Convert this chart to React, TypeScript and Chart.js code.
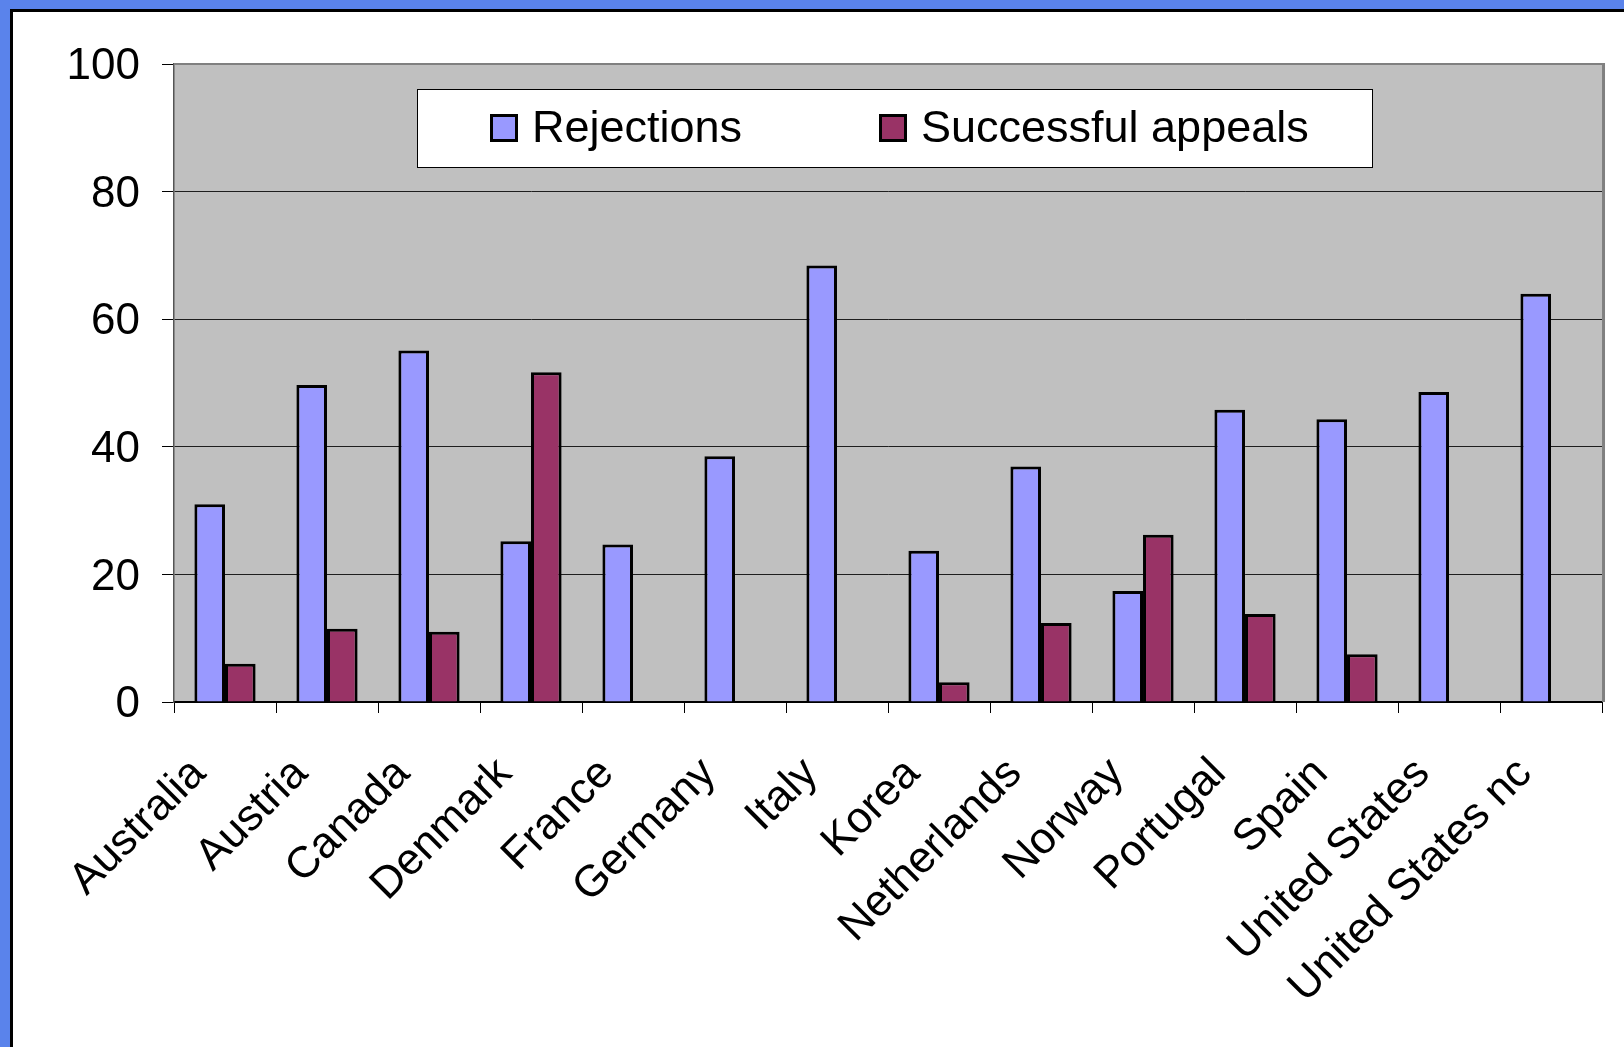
import React, { useEffect, useRef } from 'react';
import { Chart, registerables } from 'chart.js';

Chart.register(...registerables);

// Share of applications rejected and share of appeals that succeeded, by country (%)
const countries = [
  'Australia',
  'Austria',
  'Canada',
  'Denmark',
  'France',
  'Germany',
  'Italy',
  'Korea',
  'Netherlands',
  'Norway',
  'Portugal',
  'Spain',
  'United States',
  'United States nc',
];
const rejections = [31.0, 49.7, 55.1, 25.2, 24.7, 38.5, 68.4, 23.7, 36.9, 17.4, 45.8, 44.3, 48.6, 64.0];
const successfulAppeals = [6.0, 11.5, 11.0, 51.7, null, null, null, 3.1, 12.4, 26.2, 13.8, 7.5, null, null];
const yTickValues = [0, 20, 40, 60, 80, 100];

const seriesLabels = ['Rejections', 'Successful appeals'];
const seriesColors = ['#9999ff', '#993366'];

const FONT = '"Liberation Sans", Arial, sans-serif';

// Grey plotting area behind the grid
const plotBackground = {
  id: 'plotBackground',
  beforeDraw(chart: any) {
    const { ctx, chartArea: a } = chart;
    ctx.save();
    ctx.fillStyle = '#c0c0c0';
    ctx.fillRect(a.left, a.top, a.right - a.left, a.bottom - a.top);
    ctx.restore();
  },
  afterDatasetsDraw(chart: any) {
    const { ctx, chartArea: a } = chart;
    ctx.save();
    ctx.strokeStyle = '#808080';
    ctx.lineWidth = 2;
    ctx.beginPath();
    ctx.moveTo(a.left, a.top);
    ctx.lineTo(a.right, a.top);
    ctx.stroke();
    ctx.lineWidth = 3;
    ctx.beginPath();
    ctx.moveTo(a.right + 1.5, a.top - 1);
    ctx.lineTo(a.right + 1.5, a.bottom);
    ctx.stroke();
    ctx.restore();
  },
};

// Boxed legend placed inside the plotting area
const boxedLegend = {
  id: 'boxedLegend',
  afterDraw(chart: any, _args: any, opts: any) {
    const { ctx, chartArea: a } = chart;
    const x = a.left + opts.offsetX;
    const y = a.top + opts.offsetY;
    ctx.save();
    ctx.fillStyle = '#ffffff';
    ctx.fillRect(x, y, opts.width, opts.height);
    ctx.strokeStyle = '#000000';
    ctx.lineWidth = 1;
    ctx.strokeRect(x + 0.5, y + 0.5, opts.width, opts.height);
    ctx.font = `${opts.fontSize}px ${FONT}`;
    ctx.textBaseline = 'middle';
    ctx.textAlign = 'left';
    const midY = y + opts.height / 2;
    chart.data.datasets.forEach((ds: any, i: number) => {
      const sx = x + opts.itemX[i];
      const s = opts.swatch;
      ctx.fillStyle = ds.backgroundColor;
      ctx.fillRect(sx, midY - s / 2, s, s);
      ctx.strokeStyle = '#000';
      ctx.lineWidth = 3;
      ctx.strokeRect(sx + 1.5, midY - s / 2 + 1.5, s - 3, s - 3);
      ctx.fillStyle = '#000';
      ctx.fillText(ds.label, sx + s + 14, midY + 2);
    });
    ctx.restore();
  },
};

export default function App() {
  const canvasRef = useRef<HTMLCanvasElement | null>(null);

  useEffect(() => {
    if (!canvasRef.current) return;
    const chart = new Chart(canvasRef.current, {
      type: 'bar',
      data: {
        labels: countries,
        datasets: [
          {
            label: seriesLabels[0],
            data: rejections,
            backgroundColor: seriesColors[0],
            borderColor: '#000',
            borderWidth: 3,
          },
          {
            label: seriesLabels[1],
            data: successfulAppeals,
            backgroundColor: seriesColors[1],
            borderColor: '#000',
            borderWidth: 3,
          },
        ],
      },
      plugins: [plotBackground, boxedLegend],
      options: {
        responsive: false,
        animation: false,
        layout: { padding: { left: 0, top: 64, right: 18, bottom: 0 } },
        datasets: {
          bar: { categoryPercentage: 0.6, barPercentage: 1.0, borderSkipped: 'bottom' },
        },
        plugins: {
          legend: { display: false },
          tooltip: { enabled: false },
          boxedLegend: {
            offsetX: 243,
            offsetY: 25,
            width: 955,
            height: 78,
            swatch: 28,
            itemX: [73, 462],
            fontSize: 45,
          },
        } as any,
        scales: {
          x: {
            offset: true,
            afterFit: (scale: any) => {
              scale.height = 345;
            },
            grid: {
              offset: true,
              drawOnChartArea: false,
              drawTicks: true,
              tickLength: 11,
              color: '#000',
              tickColor: '#000',
            },
            border: { display: true, color: '#000', width: 2 },
            ticks: {
              color: '#000',
              font: { family: FONT, size: 44 },
              minRotation: 45,
              maxRotation: 45,
              autoSkip: false,
              padding: 35,
              labelOffset: -26,
            },
          },
          y: {
            min: 0,
            max: 100,
            afterFit: (scale: any) => {
              scale.width = 174;
            },
            afterBuildTicks: (scale: any) => {
              scale.ticks = yTickValues.map((v) => ({ value: v }));
            },
            grid: {
              color: (c: any) => (c.tick && c.tick.value === 100 ? 'rgba(0,0,0,0)' : '#1e1e1e'),
              lineWidth: 1,
              tickLength: 12,
              tickColor: '#000',
            },
            border: { display: true, color: '#555', width: 1.5 },
            ticks: {
              color: '#000',
              font: { family: FONT, size: 44 },
              padding: 22,
              labelOffset: 3,
            },
          },
        },
      },
    });
    return () => chart.destroy();
  }, []);

  return (
    <div
      style={{
        position: 'fixed',
        left: 0,
        top: 0,
        width: 1624,
        height: 1047,
        overflow: 'hidden',
        background: '#5a83eb',
      }}
    >
      <div
        style={{
          position: 'absolute',
          left: 10,
          top: 9,
          width: 1640,
          height: 1060,
          background: '#ffffff',
          borderTop: '3px solid #000',
          borderLeft: '3px solid #000',
        }}
      />
      <canvas
        ref={canvasRef}
        width={1624}
        height={1047}
        style={{ position: 'absolute', left: 0, top: 0 }}
      />
    </div>
  );
}
